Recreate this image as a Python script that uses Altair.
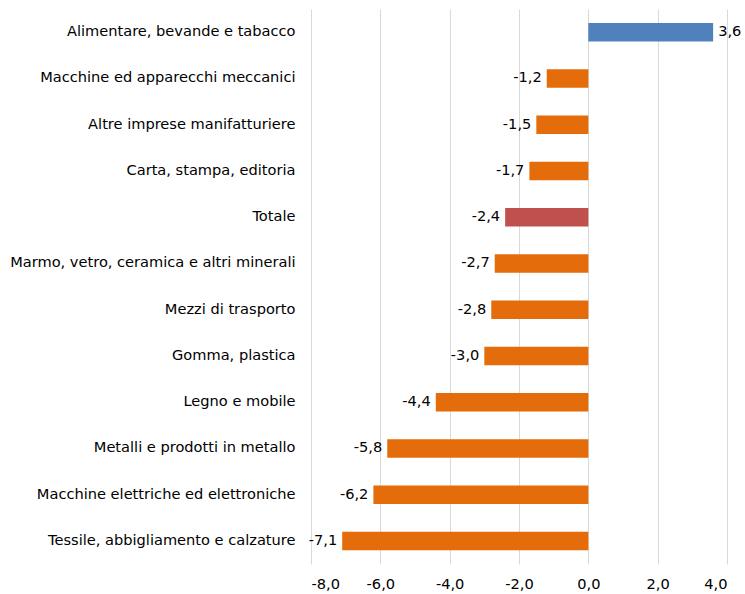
import altair as alt
import pandas as pd

categories = [
    "Alimentare, bevande e tabacco",
    "Macchine ed apparecchi meccanici",
    "Altre imprese manifatturiere",
    "Carta, stampa, editoria",
    "Totale",
    "Marmo, vetro, ceramica e altri minerali",
    "Mezzi di trasporto",
    "Gomma, plastica",
    "Legno e mobile",
    "Metalli e prodotti in metallo",
    "Macchine elettriche ed elettroniche",
    "Tessile, abbigliamento e calzature",
]
values = [3.6, -1.2, -1.5, -1.7, -2.4, -2.7, -2.8, -3.0, -4.4, -5.8, -6.2, -7.1]
groups = ["pos", "neg", "neg", "neg", "tot", "neg", "neg", "neg", "neg", "neg", "neg", "neg"]
ticks = [-8, -6, -4, -2, 0, 2, 4]

df = pd.DataFrame({"cat": categories, "v": values, "g": groups})

FONT = "DejaVu Sans"
FS = 14.6
FMT = "replace(replace(format({}, '.1f'), '.', ','), '\u2212', '-')"

y = alt.Y("cat:N", sort=categories, title=None,
          scale=alt.Scale(paddingInner=0.6, paddingOuter=0.3),
          axis=alt.Axis(domain=False, ticks=False, grid=False, labelPadding=16, labelFontSize=FS,
                        labelFont=FONT, labelColor="#000000", labelLimit=400))
x = alt.X("v:Q", title=None,
          scale=alt.Scale(domain=[-8, 4], nice=False),
          axis=alt.Axis(values=ticks, domain=False, ticks=False,
                        grid=True, gridColor="#d9d9d9", labelFontSize=FS, labelFont=FONT,
                        labelColor="#000000", labelPadding=12,
                        labelExpr=FMT.format("datum.value")))

base = alt.Chart(df).transform_calculate(lab=FMT.format("datum.v"))

bars = base.mark_bar().encode(
    x=x, x2=alt.datum(0), y=y,
    color=alt.Color("g:N", legend=None,
                    scale=alt.Scale(domain=["pos", "neg", "tot"],
                                    range=["#4F81BD", "#E46C0A", "#C0504D"])),
)

neg_text = base.transform_filter("datum.v < 0").mark_text(
    align="right", baseline="middle", dx=-5, fontSize=FS, font=FONT, color="#000000"
).encode(x="v:Q", y=alt.Y("cat:N", sort=categories), text="lab:N")

pos_text = base.transform_filter("datum.v >= 0").mark_text(
    align="left", baseline="middle", dx=5, fontSize=FS, font=FONT, color="#000000"
).encode(x="v:Q", y=alt.Y("cat:N", sort=categories), text="lab:N")

chart = alt.layer(bars, neg_text, pos_text).properties(
    width=416, height=555,
    background="white",
    autosize=alt.AutoSizeParams(type="none"),
    padding={"left": 311, "top": 9, "right": 18, "bottom": 30},
).configure_view(stroke=None, strokeWidth=0)

chart.save("out.html", embed_options={"renderer": "svg", "actions": False})
